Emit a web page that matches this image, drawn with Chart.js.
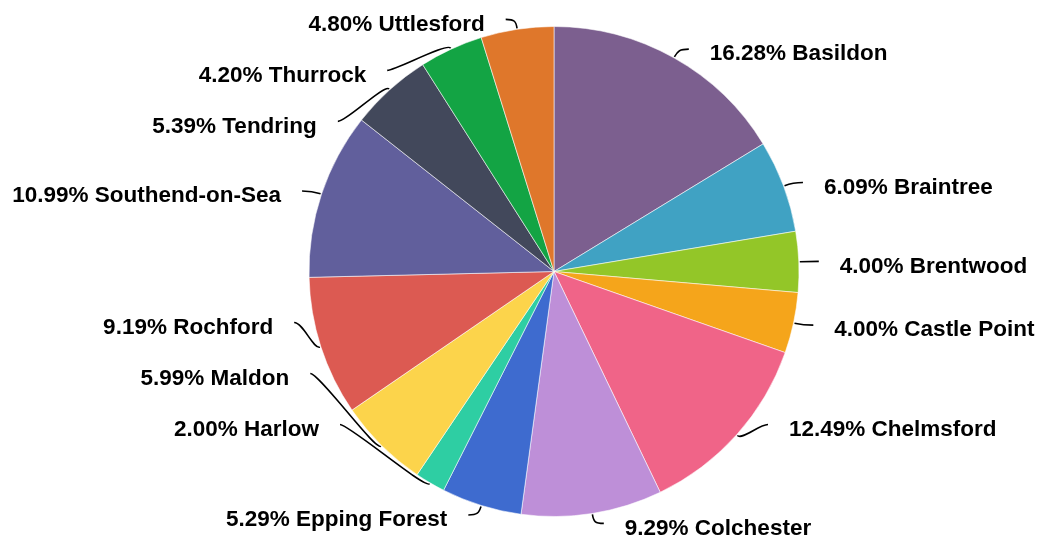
<!DOCTYPE html>
<html lang="en">
<head>
  <meta charset="UTF-8" />
  <title>Essex districts</title>
  <script src="https://cdn.jsdelivr.net/npm/chart.js"></script>
  <style>
    html, body {
      margin: 0;
      padding: 0;
      background: #fff;
    }
    #chart-container {
      width: 1044px;
      height: 543px;
      position: relative;
    }
  </style>
</head>
<body>
  <div id="chart-container">
    <canvas id="pieChart"></canvas>
  </div>

  <script>
    const districts = [
      "Basildon", "Braintree", "Brentwood", "Castle Point", "Chelmsford",
      "Colchester", "Epping Forest", "Harlow", "Maldon", "Rochford",
      "Southend-on-Sea", "Tendring", "Thurrock", "Uttlesford"
    ];

    const shares = [
      16.28, 6.09, 4.00, 4.00, 12.49,
      9.29, 5.29, 2.00, 5.99, 9.19,
      10.99, 5.39, 4.20, 4.80
    ];

    const sliceColors = [
      "#7c5f8f", "#40a2c3", "#93c628", "#f5a51b", "#f06488",
      "#be8fd8", "#3e6bcf", "#2ecea3", "#fcd44b", "#dc5a52",
      "#615f9c", "#42485b", "#13a444", "#df772b"
    ];

    // labels outside the pie, with little curved leader lines
    const outsideLabels = {
      id: "outsideLabels",
      afterDatasetsDraw(chart) {
        const ctx = chart.ctx;
        const arcs = chart.getDatasetMeta(0).data;
        if (!arcs.length) return;
        const cx = arcs[0].x;
        const cy = arcs[0].y;
        const r = arcs[0].outerRadius;
        const R2 = r + 10;     // radius where the leader lines end
        const shiftX = 10;     // extra horizontal step out
        const gap = 51;        // min vertical distance between labels
        const maxSideY = cy + 0.6 * R2;
        const minSideY = cy - R2;

        const items = arcs.map((arc, i) => {
          const a = (arc.startAngle + arc.endAngle) / 2;
          const side = Math.cos(a) >= 0 ? 1 : -1;
          // angle away from the vertical axis
          const fromPole = Math.abs(Math.atan2(Math.cos(a), Math.sin(a)));
          const nearPole = Math.min(fromPole, Math.PI - fromPole) < 25 * Math.PI / 180
            && Math.sin(a) > 0;
          return {
            i, a, side,
            fixed: nearPole,
            y: cy + Math.sin(a) * R2,
            x: cx + Math.cos(a) * R2 + side * shiftX
          };
        });

        [1, -1].forEach(side => {
          const list = items.filter(it => it.side === side).sort((p, q) => p.y - q.y);
          const clamp = it => {
            if (!it.fixed) it.y = Math.min(Math.max(it.y, minSideY), maxSideY);
          };
          list.forEach(clamp);
          for (let pass = 0; pass < 10; pass++) {
            for (let k = 1; k < list.length; k++) {
              if (!list[k].fixed && list[k].y < list[k - 1].y + gap) list[k].y = list[k - 1].y + gap;
              clamp(list[k]);
            }
            for (let k = list.length - 2; k >= 0; k--) {
              if (!list[k].fixed && list[k].y > list[k + 1].y - gap) list[k].y = list[k + 1].y - gap;
              clamp(list[k]);
            }
          }
          list.forEach(it => {
            if (it.fixed) return;
            const dy = it.y - cy;
            const dx = Math.sqrt(Math.max(R2 * R2 - dy * dy, 0));
            it.x = cx + side * (dx + shiftX);
          });
        });

        ctx.save();
        ctx.strokeStyle = "#000";
        ctx.lineWidth = 1.6;
        ctx.fillStyle = "#000";
        ctx.font = "bold 22.5px 'Liberation Sans', Arial, Helvetica, sans-serif";
        ctx.textBaseline = "middle";
        items.forEach(it => {
          const ux = Math.cos(it.a), uy = Math.sin(it.a);
          const x0 = cx + ux * (r + 1), y0 = cy + uy * (r + 1);
          ctx.beginPath();
          ctx.moveTo(x0, y0);
          ctx.bezierCurveTo(x0 + ux * 7, y0 + uy * 7, it.x - it.side * 9, it.y, it.x, it.y);
          ctx.stroke();

          ctx.textAlign = it.side > 0 ? "left" : "right";
          const txt = shares[it.i].toFixed(2) + "% " + districts[it.i];
          ctx.fillText(txt, it.x + it.side * 21, it.y + 5);
        });
        ctx.restore();
      }
    };

    const ctx = document.getElementById("pieChart").getContext("2d");
    const chart = new Chart(ctx, {
      type: "pie",
      data: {
        labels: districts,
        datasets: [
          {
            data: shares,
            backgroundColor: sliceColors,
            borderColor: "rgba(255,255,255,0.55)",
            borderWidth: 1
          }
        ]
      },
      options: {
        responsive: true,
        maintainAspectRatio: false,
        animation: false,
        layout: {
          padding: { top: 26, bottom: 26, left: 300, right: 236 }
        },
        plugins: {
          legend: { display: false },
          tooltip: { enabled: false }
        }
      },
      plugins: [outsideLabels]
    });
  </script>
</body>
</html>
